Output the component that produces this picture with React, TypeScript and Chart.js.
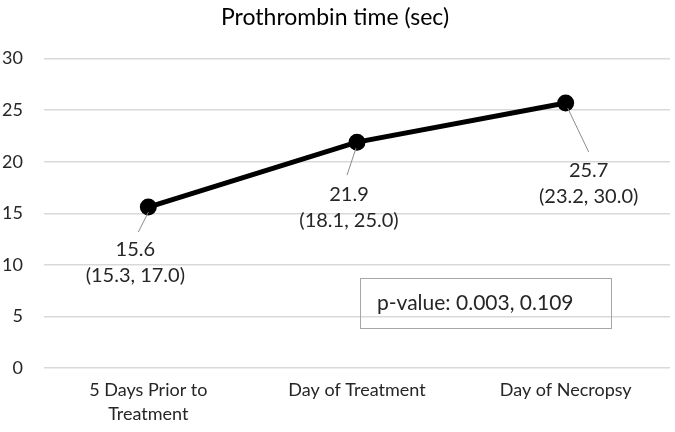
import React, { useEffect, useRef } from "react";
import { Chart, registerables } from "chart.js";

Chart.register(...registerables);

const categories: (string | string[])[] = [["5 Days Prior to", "Treatment"], "Day of Treatment", "Day of Necropsy"];
const medianValues = [15.6, 21.9, 25.7];
const rangeLabels = ["(15.3, 17.0)", "(18.1, 25.0)", "(23.2, 30.0)"];
const yTicks = [0, 5, 10, 15, 20, 25, 30];
const titleText = "Prothrombin time (sec)";
const pValueText = "p-value: 0.003, 0.109";

const FONT = "Lato, 'Noto Sans', sans-serif";

// label placement relative to the point (pixels)
const labelOffsets = [
  { lx0: 0, ly0: 5, lx1: -10, ly1: 25, tx: -13, ty: 42 },
  { lx0: -1, ly0: 6, lx1: -10, ly1: 33, tx: -8, ty: 52 },
  { lx0: 2, ly0: 5, lx1: 23, ly1: 49, tx: 23, ty: 68 },
];

const labelPlugin = {
  id: "pointLabels",
  afterDatasetsDraw(chart: any) {
    const ctx = chart.ctx;
    const meta = chart.getDatasetMeta(0);
    ctx.save();
    meta.data.forEach((pt: any, i: number) => {
      const o = labelOffsets[i];
      ctx.strokeStyle = "#8c8c8c";
      ctx.lineWidth = 1;
      ctx.beginPath();
      ctx.moveTo(pt.x + o.lx0, pt.y + o.ly0);
      ctx.lineTo(pt.x + o.lx1, pt.y + o.ly1);
      ctx.stroke();
      ctx.fillStyle = "#262626";
      ctx.font = `20px ${FONT}`;
      ctx.textAlign = "center";
      ctx.textBaseline = "middle";
      ctx.fillText(medianValues[i].toFixed(1), pt.x + o.tx, pt.y + o.ty);
      ctx.fillText(rangeLabels[i], pt.x + o.tx, pt.y + o.ty + 26);
    });
    // p-value text box
    ctx.strokeStyle = "#a6a6a6";
    ctx.lineWidth = 1;
    ctx.strokeRect(360.5, 278.5, 251, 50);
    ctx.fillStyle = "#262626";
    ctx.font = `21px ${FONT}`;
    ctx.textAlign = "left";
    ctx.textBaseline = "middle";
    ctx.fillText(pValueText, 377, 303);
    ctx.restore();
  },
};

export default function App() {
  const ref = useRef<HTMLCanvasElement>(null);
  useEffect(() => {
    document.body.style.margin = "0";
    const chart = new Chart(ref.current!, {
      type: "line",
      data: {
        labels: categories,
        datasets: [
          {
            data: medianValues,
            borderColor: "#000000",
            backgroundColor: "#000000",
            borderWidth: 5,
            pointRadius: 6,
            pointHoverRadius: 6,
            pointBackgroundColor: "#000000",
            pointBorderColor: "#000000",
            tension: 0,
          },
        ],
      },
      options: {
        animation: false,
        responsive: true,
        maintainAspectRatio: false,
        layout: { autoPadding: false, padding: { left: 0, right: 5, top: 0, bottom: 0 } },
        plugins: {
          legend: { display: false },
          tooltip: { enabled: false },
          title: {
            display: true,
            text: titleText,
            color: "#000000",
            font: { family: FONT, size: 23, weight: "normal" },
            padding: { top: 4, bottom: 27 },
          },
        },
        scales: {
          x: {
            offset: true,
            grid: { display: false, drawTicks: false, offset: true },
            border: { display: false },
            ticks: {
              color: "#262626",
              font: { family: FONT, size: 18, lineHeight: 1.33 },
              padding: 10,
              maxRotation: 0,
              autoSkip: false,
            },
            afterFit(scale: any) {
              scale.height = 64;
              scale.paddingRight = 0;
              scale.paddingLeft = 0;
            },
          },
          y: {
            min: 0,
            max: 30,
            afterBuildTicks(scale: any) {
              scale.ticks = yTicks.map((v) => ({ value: v }));
            },
            grid: { color: "#d9d9d9", lineWidth: 1.5, drawTicks: false },
            border: { display: false },
            ticks: {
              color: "#262626",
              font: { family: FONT, size: 18 },
              padding: 21,
            },
            afterFit(scale: any) {
              scale.width = 44;
            },
          },
        },
      },
      plugins: [labelPlugin],
    });
    return () => chart.destroy();
  }, []);
  return (
    <div style={{ position: "absolute", left: 0, top: 0, width: 675, height: 432 }}>
      <canvas ref={ref} />
    </div>
  );
}
